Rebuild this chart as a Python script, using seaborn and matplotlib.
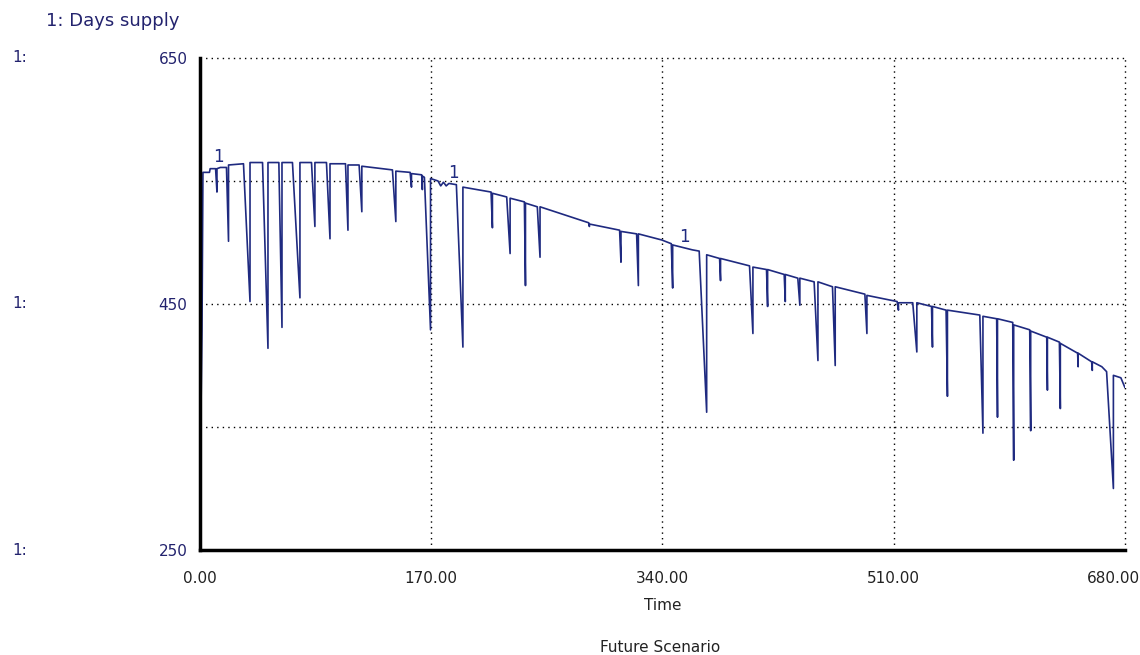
"""
Days supply over time (Future Scenario), Stella-style line graph.
"""

import matplotlib
matplotlib.use("Agg")
import matplotlib.pyplot as plt
import matplotlib.transforms as mtransforms
import seaborn as sns

sns.set_style("white")
plt.rcParams["font.family"] = ["DejaVu Sans"]

# series: each dip is start, bottom, recovery
time = [
    0, 1.5, 2.2, 7, 7.5, 11.5, 12.5, 12.5, 15,
    19.5, 21, 21, 32, 36.8, 36.8, 46, 50, 50,
    58, 60.3, 60.3, 68, 73.5, 73.5, 82, 84.5, 84.5,
    93, 95.6, 95.6, 107, 108.8, 108.8, 117, 119, 119,
    141.5, 144, 144, 154.5, 155.5, 155.5, 163, 163.5, 163.5,
    165, 169.5, 169.5, 175, 177, 179, 181, 183,
    188.5, 193.3, 193.3, 214, 215, 215, 225.5, 228, 228,
    238.5, 239.3, 239.3, 248, 250, 250, 285.8, 286.3, 286.3,
    308.5, 309.5, 309.5, 321, 322.3, 322.3, 339.6,
    346.5, 347.5, 347.5, 362, 367, 372.5, 372.5,
    382, 382.7, 382.7, 404, 406.5, 406.5, 416.5, 417.3, 417.3,
    429.5, 430.3, 430.3, 439.5, 441, 441, 451.5, 454.3, 454.3,
    465, 467, 467, 488.8, 490.3, 490.3, 512.5, 513.5, 513.5,
    524, 527, 527, 537.8, 538.5, 538.5, 548.5, 549.5, 549.5,
    573.3, 575.6, 575.6, 585.7, 586.3, 586.3, 597.5, 598.2, 598.2,
    610, 610.7, 610.7, 622.5, 623, 623, 631.8, 632.5, 632.5,
    645.2, 645.6, 645.6, 655.5, 656, 656, 663, 666.5, 671.5, 671.5,
    677, 680,
]
days_supply = [
    298, 428, 557, 557, 560, 560, 541, 560, 561,
    561, 501, 563, 564, 452, 565, 565, 414, 565,
    565, 431, 565, 565, 455, 565, 565, 513, 565,
    565, 503, 564, 564, 510, 563, 563, 525, 562,
    559, 517, 558, 557, 545, 556, 555, 543, 554,
    553, 429, 552, 550, 546, 549, 546, 548,
    547, 415, 545, 541, 512, 540, 537, 491, 536,
    533, 465, 532, 529, 488, 529, 516, 513, 515,
    510, 484, 509, 507, 465, 507, 502,
    499, 463, 498, 494, 493, 362, 490,
    487, 469, 487, 481, 426, 480, 478, 448, 478,
    474, 452, 474, 471, 449, 471, 468, 404, 468,
    464, 400, 464, 458, 426, 457, 452, 445, 451,
    451, 411, 451, 448, 415, 448, 445, 375, 445,
    441, 345, 440, 438, 358, 438, 435, 323, 433,
    429, 347, 428, 423, 380, 423, 419, 365, 418,
    410, 399, 410, 403, 396, 403, 399, 395, 300, 392,
    390, 382,
]

x_ticks = [0, 170, 340, 510, 680]
x_tick_labels = ["0.00", "170.00", "340.00", "510.00", "680.00"]
y_ticks = [250, 350, 450, 550, 650]
y_tick_labels = ["250", "", "450", "", "650"]

# where Stella drops its "1" series markers
marker_time = [13.5, 186.5, 356.5]
marker_value = [562, 549, 497]

navy = "#1f2a80"
label_blue = "#23236e"


def main():
    fig = plt.figure(figsize=(11.4, 6.55), dpi=100)
    ax = fig.add_axes([0.1754, 0.1603, 0.8114, 0.7512])

    sns.lineplot(x=time, y=days_supply, estimator=None, sort=False,
                 color=navy, linewidth=1.2, ax=ax)

    for t, v in zip(marker_time, marker_value):
        ax.text(t, v, "1", color=navy, fontsize=12, ha="center", va="bottom")

    ax.set_xlim(0, 680)
    ax.set_ylim(250, 650)
    ax.set_xticks(x_ticks)
    ax.set_xticklabels(x_tick_labels, fontsize=11, color="#222222")
    ax.set_yticks(y_ticks)
    ax.set_yticklabels(y_tick_labels, fontsize=11, color=label_blue)
    ax.tick_params(axis="both", direction="out", length=6, width=2,
                   color="black")
    ax.tick_params(axis="x", pad=9)
    ax.tick_params(axis="y", pad=3)

    # last time label is nudged left so it stays inside the picture
    last = ax.get_xticklabels()[-1]
    last.set_transform(last.get_transform() + mtransforms.ScaledTranslation(
        -0.12, 0, fig.dpi_scale_trans))

    ax.grid(True, linestyle=(0, (1, 3)), color="black", linewidth=1)
    # keep the grid lines on the top and right edges fully visible
    for gl in ax.get_xgridlines() + ax.get_ygridlines():
        gl.set_clip_on(False)
    for side in ["top", "right"]:
        ax.spines[side].set_visible(False)
    for side in ["left", "bottom"]:
        ax.spines[side].set_linewidth(2.5)
        ax.spines[side].set_color("black")

    ax.set_xlabel("Time", fontsize=11, color="#222222", labelpad=9)
    ax.set_ylabel("")

    # Stella scale prefixes and headings
    for v in [650, 450, 250]:
        ax.text(-0.203, v, "1:", fontsize=11, color=label_blue,
                ha="left", va="center", clip_on=False,
                transform=ax.get_yaxis_transform())
    fig.text(0.04, 0.968, "1: Days supply", fontsize=13, color=label_blue,
             ha="left", va="center")
    fig.text(0.579, 0.011, "Future Scenario", fontsize=11, color="#222222",
             ha="center", va="center")

    plt.savefig("out.png", dpi=100)
    plt.close(fig)


if __name__ == '__main__':
    main()
